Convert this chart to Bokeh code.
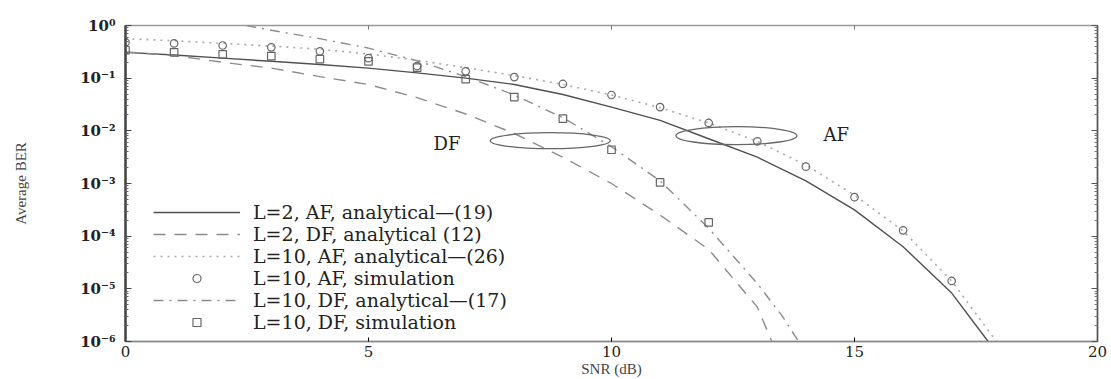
from bokeh.plotting import figure
from bokeh.models import (Range1d, LinearAxis, LogAxis, FixedTicker, CustomJSTickFormatter,
                          Legend, LegendItem, Label)
from bokeh.embed import file_html
from bokeh.resources import INLINE

# ---------------- data ----------------
snr_af2 = [0, 1, 2, 3, 4, 5, 6, 7, 8, 9, 10, 11, 12, 13, 14, 15, 16, 17, 17.75, 17.9]
ber_af2 = [0.309, 0.275, 0.240, 0.209, 0.182, 0.155, 0.126, 0.100, 0.0759, 0.049,
           0.0282, 0.0158, 7.08e-3, 3.16e-3, 1.12e-3, 3.16e-4, 6.31e-5, 8.3e-6, 1.0e-6, 6.0e-7]

snr_df2 = [0, 1, 2, 3, 4, 5, 6, 7, 8, 9, 10, 11, 12, 13, 13.3, 13.4]
ber_df2 = [0.316, 0.269, 0.200, 0.155, 0.107, 0.0759, 0.0427, 0.0209, 8.9e-3, 3.16e-3,
           1.0e-3, 2.51e-4, 5.6e-5, 4.5e-6, 1.0e-6, 5.0e-7]

snr_af10 = [0, 1, 2, 3, 4, 5, 6, 7, 8, 9, 10, 11, 12, 13, 14, 15, 16, 17, 17.92, 18.0]
ber_af10 = [0.562, 0.513, 0.457, 0.407, 0.355, 0.288, 0.219, 0.158, 0.112, 0.0759,
            0.0479, 0.0275, 0.0141, 6.31e-3, 2.24e-3, 6.0e-4, 1.26e-4, 1.41e-5, 1.0e-6, 6.3e-7]

snr_af10_sim = [0, 1, 2, 3, 4, 5, 6, 7, 8, 9, 10, 11, 12, 13, 14, 15, 16, 17]
ber_af10_sim = [0.479, 0.457, 0.417, 0.385, 0.324, 0.240, 0.170, 0.135, 0.105, 0.0776,
                0.0479, 0.0282, 0.0141, 6.31e-3, 2.09e-3, 5.5e-4, 1.29e-4, 1.41e-5]

snr_df10 = [2, 3, 4, 5, 6, 7, 8, 9, 10, 11, 12, 13, 13.5, 13.85, 14.0]
ber_df10 = [1.2, 0.813, 0.562, 0.372, 0.214, 0.107, 0.0479, 0.0178, 5.0e-3, 1.12e-3,
            1.41e-4, 1.26e-5, 3.16e-6, 1.0e-6, 5.0e-7]

snr_df10_sim = [0, 1, 2, 3, 4, 5, 6, 7, 8, 9, 10, 11, 12]
ber_df10_sim = [0.339, 0.309, 0.282, 0.263, 0.229, 0.209, 0.158, 0.0955, 0.0437, 0.017,
                4.37e-3, 1.05e-3, 1.82e-4]

x_ticks = [0, 5, 10, 15, 20]
y_ticks = [1e-6, 1e-5, 1e-4, 1e-3, 1e-2, 1e-1, 1.0]
y_minor = [k * 10.0 ** e for e in range(-6, 0) for k in range(2, 10)]

legend_labels = [
    "L=2, AF, analytical\u2014(19)",
    "L=2, DF, analytical (12)",
    "L=10, AF, analytical\u2014(26)",
    "L=10, AF, simulation",
    "L=10, DF, analytical\u2014(17)",
    "L=10, DF, simulation",
]

# annotation ellipses (centre SNR, centre BER) and their labels
df_ell = (8.74, 6.5e-3)
af_ell = (12.57, 8.1e-3)
df_lab = (6.34, 5.7e-3)
af_lab = (14.36, 8.4e-3)

SERIF = "DejaVu Serif"
TXT = "Liberation Serif"

p = figure(width=1111, height=379, x_range=Range1d(0, 20), y_range=Range1d(1e-6, 1),
           y_axis_type="log", output_backend="svg", toolbar_location=None,
           min_border_left=125, min_border_right=14, min_border_top=25, min_border_bottom=36)
p.grid.visible = False
p.outline_line_color = "#9a9a9a"
p.outline_line_width = 1.5
p.background_fill_color = "white"

sup = CustomJSTickFormatter(code="""
const s = {"-":"\u207b","0":"\u2070","1":"\u00b9","2":"\u00b2","3":"\u00b3","4":"\u2074",
           "5":"\u2075","6":"\u2076","7":"\u2077","8":"\u2078","9":"\u2079"};
const e = Math.round(Math.log10(tick));
return "10" + String(e).split("").map(c => s[c]).join("");
""")

yax = p.yaxis[0]
yax.ticker = FixedTicker(ticks=y_ticks, minor_ticks=y_minor)
yax.formatter = sup
yax.axis_label = "Average BER"
yax.axis_label_text_font = TXT
yax.axis_label_text_font_style = "normal"
yax.axis_label_text_font_size = "15px"
yax.axis_label_standoff = 48
yax.major_label_text_font = SERIF
yax.major_label_text_font_size = "15px"
yax.major_label_text_font_style = "bold"
yax.major_label_text_color = "#222"
yax.major_label_standoff = 10
yax.axis_line_color = "#444"
yax.axis_line_width = 2.5
yax.major_tick_in = 6
yax.major_tick_out = 0
yax.minor_tick_in = 3
yax.minor_tick_out = 0
yax.major_tick_line_color = "#444"
yax.minor_tick_line_color = "#666"

xax = p.xaxis[0]
xax.ticker = FixedTicker(ticks=x_ticks, minor_ticks=[])
xax.axis_label = "SNR (dB)"
xax.axis_label_text_font = TXT
xax.axis_label_text_font_style = "normal"
xax.axis_label_text_font_size = "15px"
xax.axis_label_standoff = 1
xax.major_label_text_font = SERIF
xax.major_label_text_font_size = "15px"
xax.major_label_text_color = "#222"
xax.major_label_standoff = 4
xax.axis_line_color = "#8a8a8a"
xax.axis_line_width = 1.5
xax.major_tick_in = 4
xax.major_tick_out = 0

top = LinearAxis(ticker=FixedTicker(ticks=x_ticks, minor_ticks=[]),
                 major_label_text_font_size="1px", major_label_text_alpha=0,
                 axis_line_color="#9a9a9a", major_tick_in=4, major_tick_out=0,
                 major_tick_line_color="#777")
p.add_layout(top, "above")
right = LogAxis(ticker=FixedTicker(ticks=y_ticks, minor_ticks=y_minor),
                major_label_text_font_size="1px", major_label_text_alpha=0,
                axis_line_color="#555", axis_line_width=1.5,
                major_tick_in=6, major_tick_out=0, minor_tick_in=3, minor_tick_out=0,
                major_tick_line_color="#555", minor_tick_line_color="#777")
p.add_layout(right, "right")

r1 = p.line(snr_af2, ber_af2, line_color="#505050", line_width=1.4)
r2 = p.line(snr_df2, ber_df2, line_color="#8c8c8c", line_width=1.4, line_dash="12 9")
r3 = p.line(snr_af10, ber_af10, line_color="#a8a8a8", line_width=1.6, line_dash="2 5")
r4 = p.scatter(snr_af10_sim, ber_af10_sim, marker="circle", size=7.5, fill_color=None,
               line_color="#666", line_width=1.2)
r5 = p.line(snr_df10, ber_df10, line_color="#8c8c8c", line_width=1.4, line_dash="10 6 2 6")
r6 = p.scatter(snr_df10_sim, ber_df10_sim, marker="square", size=7.5, fill_color=None,
               line_color="#666", line_width=1.2)

p.ellipse(x=[df_ell[0]], y=[df_ell[1]], width=120, height=16, width_units="screen",
          height_units="screen", fill_color=None, line_color="#666", line_width=1.3)
p.ellipse(x=[af_ell[0]], y=[af_ell[1]], width=121, height=18, width_units="screen",
          height_units="screen", fill_color=None, line_color="#666", line_width=1.3)

p.add_layout(Label(x=df_lab[0], y=df_lab[1], text="DF", text_font=SERIF, text_font_size="18px",
                   text_baseline="middle", text_align="left", text_color="#222"))
p.add_layout(Label(x=af_lab[0], y=af_lab[1], text="AF", text_font=SERIF, text_font_size="18px",
                   text_baseline="middle", text_align="left", text_color="#222"))

items = [LegendItem(label=t, renderers=[r]) for t, r in zip(legend_labels, [r1, r2, r3, r4, r5, r6])]
legend = Legend(items=items, location=(28, 8), padding=0, margin=0, spacing=0,
                glyph_width=87, glyph_height=20, label_height=20, label_standoff=13,
                label_text_font=SERIF, label_text_font_size="19px", label_text_color="#222",
                border_line_color=None, background_fill_alpha=0)
p.add_layout(legend)

open("out.html", "w").write(file_html(p, INLINE))
